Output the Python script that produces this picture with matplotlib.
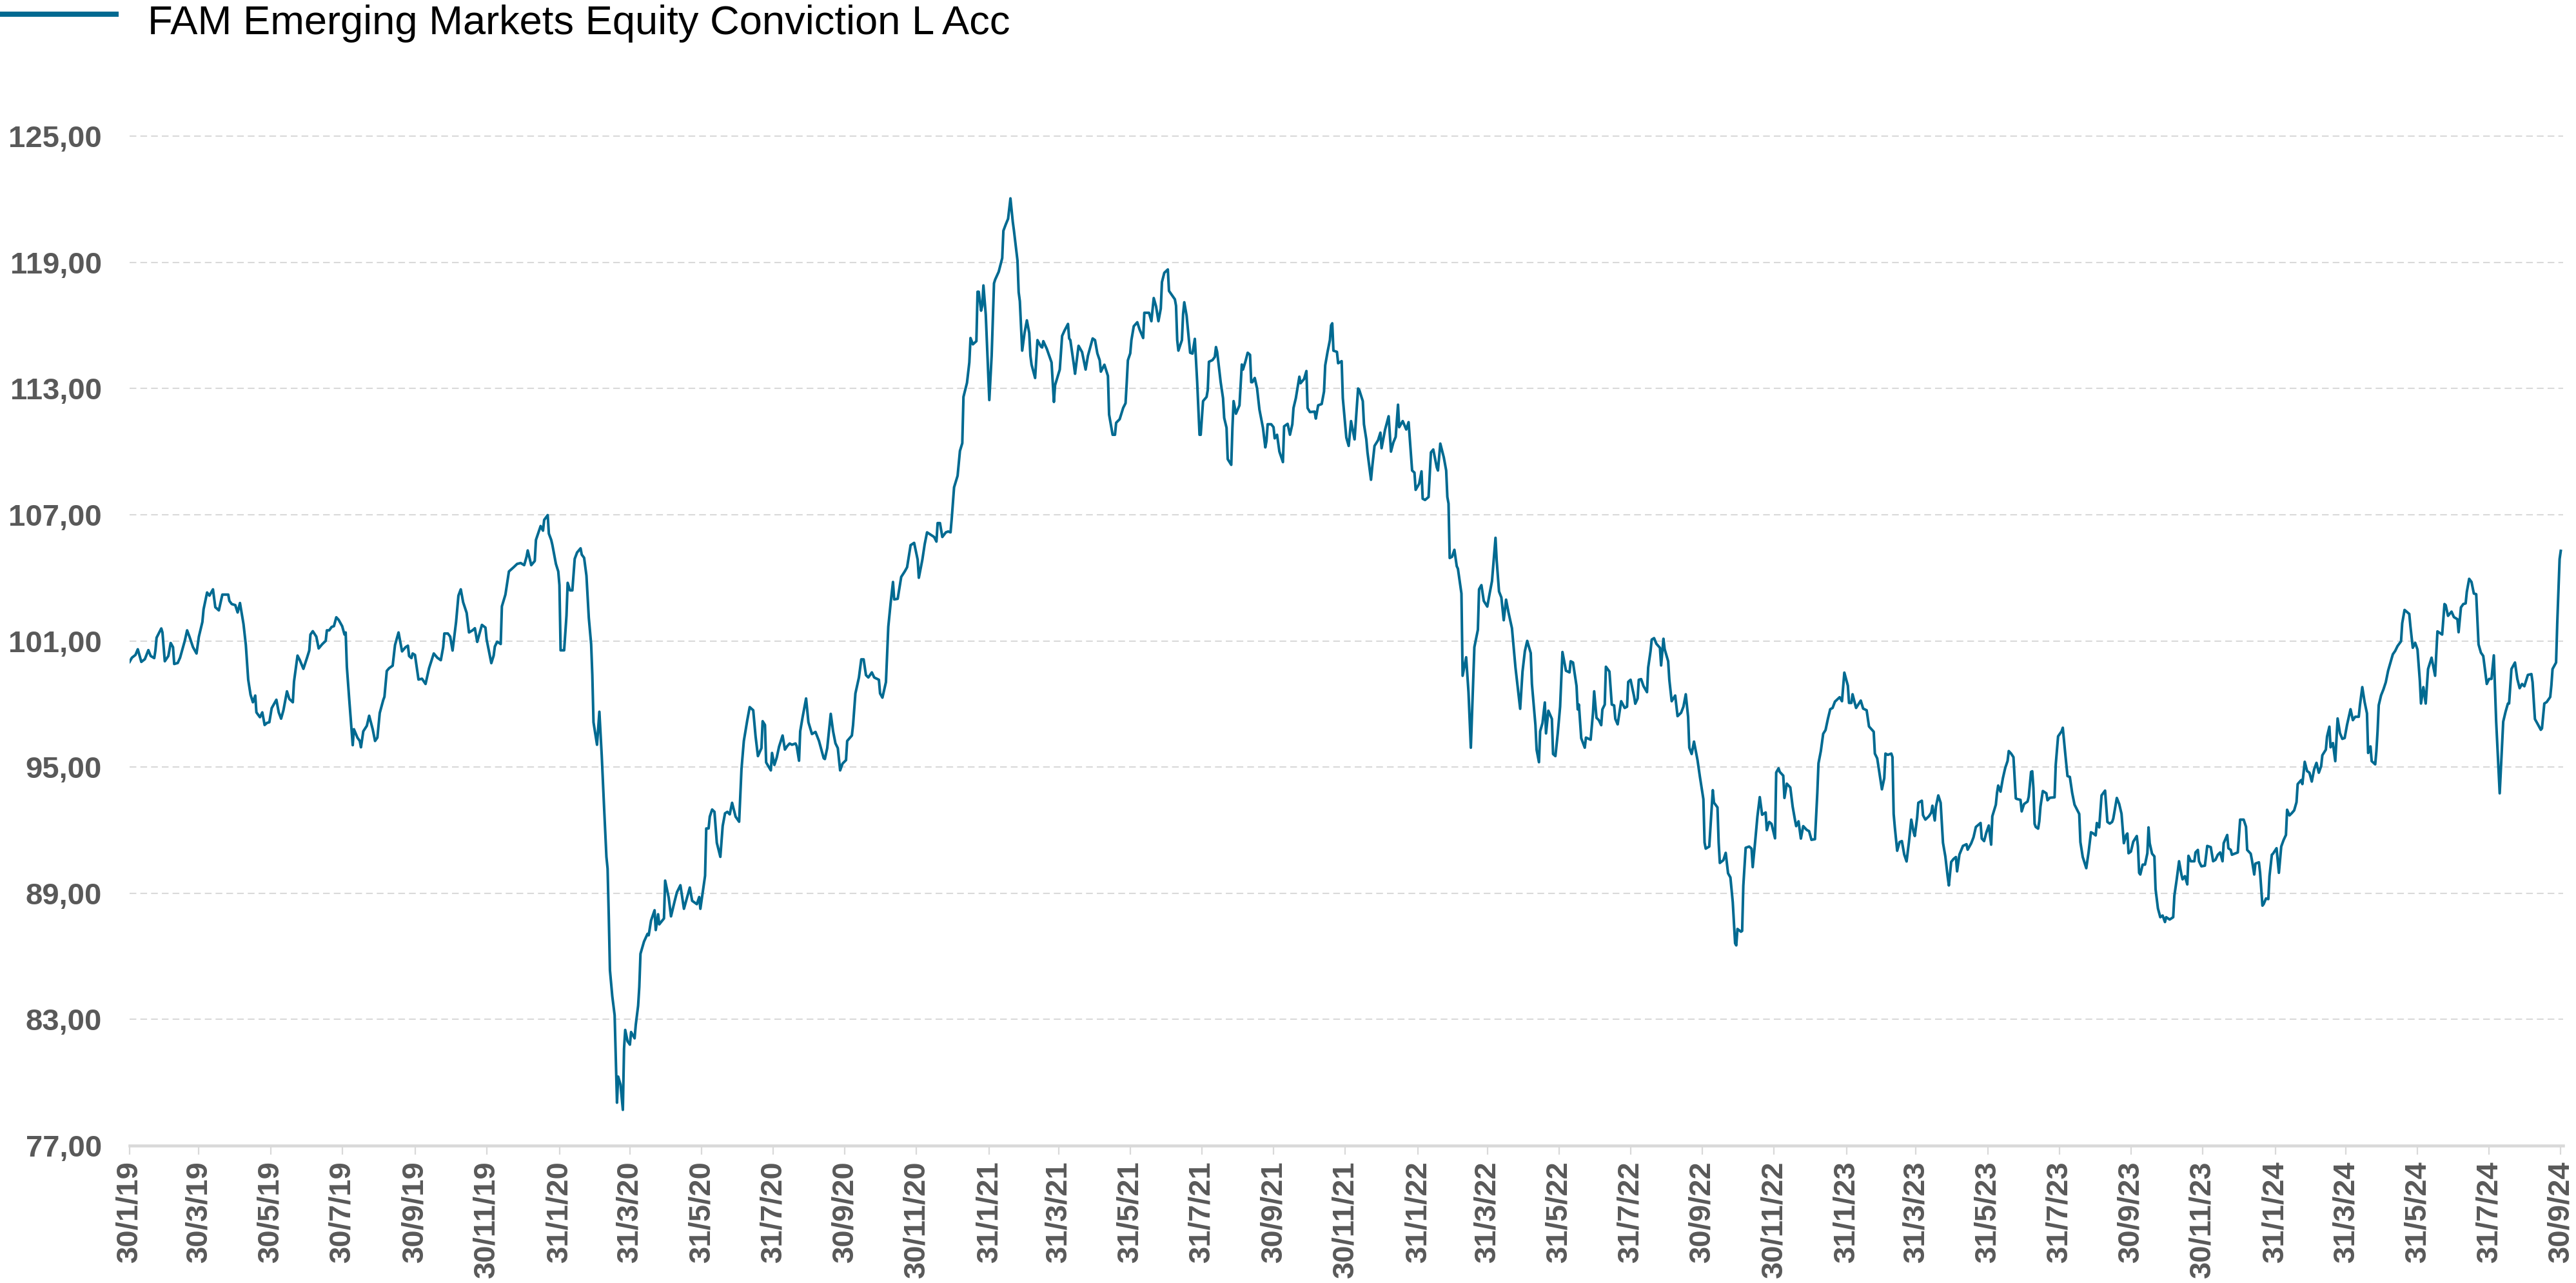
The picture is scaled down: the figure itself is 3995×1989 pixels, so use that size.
import numpy as np
import matplotlib
matplotlib.use('Agg')
import matplotlib.pyplot as plt
from matplotlib.lines import Line2D

plt.rcParams['font.family'] = ['Liberation Sans', 'DejaVu Sans']

series_name = "FAM Emerging Markets Equity Conviction L Acc"
launch_date = np.datetime64('2019-01-30')

# NAV rebased to 100 at launch; days counted from launch date, one list per year
days_2019 = [0, 2, 5, 7, 10, 13, 16, 18, 21, 22, 23, 27, 28, 30, 33, 35, 37, 38, 41, 43, 45, 47, 49, 51,
             54, 57, 59, 62, 63, 66, 68, 71, 73, 76, 79, 84, 85, 87, 90, 92, 94, 97, 99, 101, 103, 105,
             107, 108, 111, 113, 115, 117, 119, 121, 125, 127, 129, 131, 134, 136, 139, 140, 143, 145,
             148, 151, 153, 154, 156, 159, 161, 164, 167, 168, 170, 172, 174, 176, 178, 181, 183, 184,
             185, 187, 190, 191, 194, 196, 197, 199, 202, 204, 207, 209, 211, 213, 216, 217, 219, 221,
             224, 226, 229, 232, 235, 237, 238, 240, 241, 243, 246, 249, 252, 255, 259, 262, 265, 267,
             268, 271, 273, 275, 278, 280, 282, 284, 287, 289, 292, 294, 296, 300, 303, 304, 306, 308,
             310, 311, 313, 316, 317, 320, 323, 325, 327, 330, 333]
nav_2019 = [100.0, 100.2, 100.33, 100.6, 100.0, 100.13, 100.56, 100.28, 100.18, 100.54, 101.15, 101.59,
            101.4, 100.03, 100.28, 100.9, 100.7, 99.9, 99.95, 100.2, 100.6, 101.0, 101.5, 101.2, 100.7,
            100.4, 101.2, 101.9, 102.5, 103.3, 103.15, 103.45, 102.6, 102.45, 103.2, 103.2, 102.9,
            102.75, 102.7, 102.35, 102.8, 101.8, 100.8, 99.16, 98.44, 98.08, 98.4, 97.6, 97.37, 97.6,
            97.0, 97.1, 97.13, 97.8, 98.2, 97.6, 97.3, 97.7, 98.6, 98.24, 98.08, 99.06, 100.3, 100.08,
            99.67, 100.18, 100.54, 101.3, 101.46, 101.2, 100.64, 100.84, 101.0, 101.5, 101.5, 101.66,
            101.7, 102.12, 102.0, 101.7, 101.3, 101.4, 99.77, 98.24, 96.04, 96.8, 96.4, 96.24, 95.94,
            96.7, 96.96, 97.44, 96.8, 96.24, 96.4, 97.57, 98.19, 98.34, 99.57, 99.7, 99.82, 100.8,
            101.4, 100.5, 100.7, 100.77, 100.28, 100.18, 100.4, 100.33, 99.16, 99.2, 98.95, 99.7,
            100.4, 100.2, 100.08, 100.7, 101.35, 101.35, 101.2, 100.54, 101.9, 103.15, 103.45, 102.84,
            102.33, 101.4, 101.5, 101.6, 100.95, 101.76, 101.63, 101.07, 100.5, 99.94, 100.3, 100.73,
            100.96, 100.85, 102.64, 103.2, 104.3, 104.4, 104.5, 104.66, 104.7]

days_2020 = [336, 338, 339, 342, 345, 346, 350, 352, 353, 356, 357, 359, 360, 363, 365, 366, 367, 370,
             372, 373, 375, 377, 379, 381, 384, 385, 387, 389, 391, 393, 394, 395, 398, 400, 402, 404,
             406, 407, 408, 409, 411, 413, 415, 416, 418, 420, 421, 422, 424, 426, 427, 430, 431, 433,
             434, 435, 438, 441, 442, 444, 447, 448, 450, 451, 455, 456, 459, 461, 464, 466, 469, 472,
             477, 479, 483, 485, 486, 490, 491, 493, 494, 496, 498, 500, 503, 505, 507, 509, 511, 513,
             516, 519, 521, 523, 526, 528, 531, 533, 535, 538, 539, 541, 542, 546, 547, 549, 551, 553,
             556, 558, 560, 562, 564, 567, 568, 570, 571, 573, 576, 578, 581, 584, 587, 591, 592, 594,
             596, 597, 599, 601, 603, 605, 607, 610, 611, 615, 616, 618, 621, 623, 625, 627, 629, 632,
             634, 638, 639, 641, 644, 646, 648, 650, 651, 654, 657, 660, 662, 665, 668, 671, 672, 675,
             677, 679, 682, 685, 687, 688, 690, 692, 695, 697, 699, 700]
nav_2020 = [104.6, 105.0, 105.3, 104.6, 104.8, 105.8, 106.46, 106.24, 106.75, 106.98, 106.1, 105.8,
            105.56, 104.66, 104.3, 103.65, 100.55, 100.55, 102.2, 103.76, 103.4, 103.4, 104.9, 105.2,
            105.4, 105.1, 104.95, 104.1, 102.1, 100.84, 99.38, 97.13, 96.06, 97.63, 95.56, 93.1, 90.73,
            90.17, 87.92, 85.34, 84.1, 83.2, 79.04, 80.28, 79.9, 78.7, 81.6, 82.5, 81.96, 81.8, 82.4,
            82.1, 82.75, 83.65, 84.55, 86.12, 86.7, 87.07, 87.0, 87.7, 88.19, 87.25, 88.0, 87.52, 87.8,
            89.6, 88.8, 87.9, 88.6, 89.04, 89.38, 88.26, 89.27, 88.64, 88.48, 88.82, 88.26, 89.83,
            92.08, 92.08, 92.64, 92.98, 92.87, 91.4, 90.73, 92.2, 92.8, 92.87, 92.75, 93.3, 92.64, 92.4,
            94.9, 96.24, 97.25, 97.85, 97.7, 96.46, 95.52, 95.9, 97.18, 97.0, 95.22, 94.84, 95.67,
            95.1, 95.45, 95.97, 96.5, 95.83, 96.0, 96.12, 96.06, 96.12, 96.0, 95.3, 96.7, 97.36, 98.26,
            97.13, 96.57, 96.67, 96.24, 95.42, 95.38, 95.9, 97.0, 97.53, 96.7, 96.13, 95.9, 94.84,
            95.16, 95.33, 96.24, 96.5, 97.0, 98.5, 99.26, 100.12, 100.12, 99.37, 99.26, 99.5, 99.26,
            99.15, 98.5, 98.3, 99.04, 101.67, 102.8, 103.8, 102.97, 103.0, 104.04, 104.3, 104.5,
            105.55, 105.66, 104.86, 104.0, 104.86, 105.6, 106.16, 106.05, 105.94, 105.72, 106.6,
            106.6, 105.94, 106.16, 106.2, 106.16, 106.8]

days_2021 = [702, 705, 707, 709, 710, 713, 715, 716, 718, 721, 722, 723, 725, 726, 727, 729, 732, 734,
             736, 737, 740, 743, 744, 746, 748, 750, 752, 753, 756, 757, 758, 760, 762, 764, 766, 767,
             768, 771, 773, 776, 777, 778, 781, 783, 785, 787, 788, 792, 794, 796, 799, 800, 801, 804,
             805, 808, 811, 814, 816, 820, 822, 824, 826, 827, 830, 833, 834, 837, 839, 840, 843, 846,
             848, 849, 850, 852, 853, 855, 858, 860, 863, 864, 868, 870, 872, 874, 876, 878, 879, 881,
             884, 885, 888, 890, 891, 892, 893, 896, 897, 898, 900, 903, 905, 907, 909, 911, 912, 914,
             917, 918, 919, 922, 924, 925, 926, 927, 929, 931, 932, 934, 935, 938, 939, 940, 942, 945,
             947, 948, 950, 952, 954, 955, 956, 958, 960, 962, 965, 967, 968, 969, 972, 974, 975, 977,
             979, 982, 983, 986, 988, 990, 991, 993, 996, 997, 1000, 1002, 1003, 1005, 1009, 1010, 1012,
             1015, 1017, 1018, 1020, 1022, 1023, 1024, 1025, 1028, 1029, 1032, 1033, 1036, 1038, 1040,
             1043, 1045, 1046, 1047, 1050, 1051, 1053, 1054, 1057, 1058, 1060, 1063, 1065, 1066]
nav_2021 = [108.3, 108.85, 110.03, 110.4, 112.6, 113.27, 114.24, 115.4, 115.1, 115.25, 117.6, 117.6,
            116.7, 116.93, 117.9, 116.5, 112.45, 114.56, 118.0, 118.18, 118.55, 119.2, 120.5, 120.8,
            121.07, 122.04, 120.92, 120.5, 119.08, 117.58, 117.15, 114.8, 115.64, 116.24, 115.64,
            114.56, 114.13, 113.5, 115.3, 114.99, 114.95, 115.25, 114.88, 114.56, 114.24, 112.36,
            113.16, 113.9, 115.5, 115.75, 116.07, 115.38, 115.3, 114.13, 113.7, 115.03, 114.73, 113.9,
            114.56, 115.38, 115.3, 114.67, 114.34, 113.8, 114.13, 113.6, 111.76, 110.8, 110.8, 111.37,
            111.54, 112.08, 112.3, 113.27, 114.34, 114.67, 115.3, 115.96, 116.15, 115.8, 115.4, 116.6,
            116.6, 116.2, 117.3, 116.9, 116.2, 116.8, 118.06, 118.5, 118.66, 117.64, 117.4, 117.24,
            116.93, 115.3, 114.8, 115.3, 116.54, 117.1, 116.46, 114.7, 114.66, 115.36, 113.3, 110.8,
            110.8, 112.4, 112.6, 112.93, 114.27, 114.35, 114.5, 114.97, 114.74, 114.27, 113.3, 112.54,
            111.6, 111.13, 109.64, 109.37, 111.13, 112.4, 111.8, 112.2, 114.14, 113.9, 114.27, 114.7,
            114.6, 113.3, 113.3, 113.5, 113.0, 112.0, 111.13, 110.2, 110.5, 111.3, 111.3, 111.16,
            110.63, 110.8, 110.0, 109.5, 111.2, 111.32, 110.8, 111.3, 112.07, 112.54, 113.56, 113.25,
            113.45, 113.83, 112.07, 111.88, 111.9, 111.57, 112.2, 112.26, 112.86, 114.1, 114.74, 115.3,
            116.0, 116.1, 114.8, 114.74, 114.2, 114.3, 112.54, 110.66, 110.27, 111.45, 110.58, 112.2,
            113.0, 112.93, 112.4, 111.3, 110.58, 109.96, 108.66, 109.25, 110.27, 110.54, 110.9, 110.16]

days_2022 = [1069, 1072, 1074, 1076, 1078, 1080, 1081, 1084, 1087, 1089, 1092, 1094, 1095, 1098, 1100,
             1101, 1103, 1106, 1108, 1110, 1113, 1114, 1116, 1119, 1121, 1122, 1123, 1124, 1126, 1128,
             1130, 1131, 1134, 1135, 1138, 1140, 1142, 1145, 1148, 1149, 1151, 1153, 1156, 1158, 1160,
             1163, 1164, 1166, 1168, 1170, 1172, 1174, 1177, 1180, 1182, 1184, 1186, 1188, 1190, 1193,
             1194, 1197, 1198, 1200, 1201, 1203, 1205, 1206, 1208, 1211, 1212, 1214, 1216, 1218, 1220,
             1223, 1226, 1227, 1229, 1232, 1233, 1234, 1236, 1239, 1240, 1244, 1246, 1247, 1249, 1251,
             1253, 1254, 1256, 1257, 1260, 1262, 1264, 1265, 1267, 1270, 1273, 1275, 1276, 1278, 1281,
             1282, 1284, 1285, 1287, 1289, 1292, 1293, 1295, 1296, 1298, 1300, 1303, 1304, 1306, 1307,
             1310, 1311, 1313, 1316, 1318, 1321, 1323, 1325, 1327, 1328, 1330, 1332, 1335, 1337, 1340,
             1341, 1342, 1345, 1348, 1349, 1352, 1353, 1354, 1357, 1359, 1361, 1363, 1365, 1367, 1368,
             1369, 1372, 1373, 1374, 1376, 1379, 1381, 1382, 1384, 1386, 1388, 1390, 1393, 1394, 1396,
             1398, 1401, 1402, 1404, 1405, 1408, 1409, 1411, 1414, 1416, 1418, 1419, 1421, 1423, 1425,
             1428, 1430]
nav_2022 = [111.05, 111.68, 110.0, 110.43, 110.7, 112.23, 111.16, 111.45, 111.05, 111.4, 109.1, 109.0,
            108.18, 108.47, 109.06, 107.76, 107.7, 107.84, 109.96, 110.1, 109.25, 109.1, 110.38,
            109.72, 109.1, 107.84, 107.53, 104.94, 105.0, 105.33, 104.55, 104.43, 103.25, 99.34,
            100.22, 98.56, 95.92, 100.7, 101.53, 103.45, 103.65, 102.9, 102.63, 103.25, 103.84, 105.9,
            104.82, 103.35, 103.06, 101.98, 102.96, 102.37, 101.6, 99.73, 98.75, 97.77, 99.54, 100.51,
            101.0, 100.42, 98.95, 96.99, 95.82, 95.23, 96.7, 97.09, 98.07, 96.6, 97.68, 97.29, 95.62,
            95.52, 96.6, 97.87, 100.47, 99.58, 99.5, 100.03, 99.97, 98.85, 97.74, 97.97, 96.37, 95.92,
            96.4, 96.3, 97.58, 98.6, 97.34, 97.23, 96.99, 97.74, 97.97, 99.77, 99.54, 97.97, 97.93,
            97.29, 97.03, 98.13, 97.81, 97.87, 99.05, 99.15, 98.36, 98.01, 98.26, 99.15, 99.18, 98.85,
            98.56, 99.73, 100.51, 101.06, 101.13, 100.86, 100.67, 99.83, 101.1, 100.61, 100.03, 99.15,
            98.13, 98.4, 97.42, 97.58, 97.87, 98.46, 97.38, 95.92, 95.62, 96.21, 95.33, 94.55, 93.47,
            91.41, 91.12, 91.22, 93.9, 93.31, 93.08, 91.41, 90.44, 90.57, 90.92, 89.95, 89.75, 88.58,
            86.62, 86.52, 87.3, 87.17, 87.21, 89.36, 91.16, 91.22, 91.12, 90.24, 91.41, 92.65, 93.57,
            92.73, 92.84, 92.0, 92.39, 92.3, 91.61, 94.74, 94.94, 94.77, 94.59, 93.53, 94.21, 94.03,
            93.12, 92.48, 92.19, 92.42, 91.6, 92.19, 92.01, 91.95]

days_2023 = [1432, 1435, 1437, 1438, 1440, 1442, 1444, 1446, 1448, 1450, 1452, 1456, 1458, 1460, 1463,
             1464, 1466, 1467, 1470, 1474, 1476, 1479, 1481, 1485, 1486, 1488, 1492, 1494, 1495, 1497,
             1500, 1501, 1502, 1503, 1505, 1507, 1509, 1511, 1513, 1515, 1517, 1519, 1520, 1522, 1523,
             1526, 1527, 1529, 1532, 1534, 1535, 1537, 1538, 1540, 1542, 1544, 1546, 1548, 1549, 1551,
             1553, 1555, 1556, 1558, 1561, 1564, 1565, 1568, 1570, 1572, 1576, 1577, 1579, 1581, 1583,
             1585, 1586, 1589, 1590, 1591, 1593, 1595, 1597, 1599, 1600, 1602, 1604, 1606, 1607, 1610,
             1611, 1613, 1616, 1617, 1619, 1620, 1621, 1622, 1623, 1625, 1626, 1627, 1629, 1632, 1633,
             1635, 1639, 1640, 1642, 1645, 1646, 1648, 1650, 1652, 1654, 1656, 1660, 1661, 1663, 1665,
             1666, 1668, 1670, 1672, 1674, 1675, 1677, 1679, 1682, 1684, 1686, 1688, 1689, 1692, 1694,
             1696, 1698, 1700, 1701, 1702, 1704, 1706, 1709, 1710, 1711, 1712, 1714, 1716, 1718, 1719,
             1720, 1722, 1724, 1725, 1727, 1729, 1731, 1733, 1734, 1737, 1740, 1741, 1743, 1745, 1747,
             1748, 1750, 1752, 1753, 1755, 1758, 1759, 1761, 1762, 1764, 1767, 1769, 1772, 1774, 1776,
             1778, 1780, 1782, 1783, 1786, 1787, 1789, 1790, 1795]
nav_2023 = [91.54, 91.57, 93.77, 95.18, 95.76, 96.58, 96.76, 97.29, 97.75, 97.81, 98.11, 98.32, 98.13,
            99.49, 98.87, 98.05, 98.05, 98.46, 97.81, 98.16, 97.78, 97.7, 96.93, 96.68, 95.64, 95.41,
            93.94, 94.47, 95.64, 95.58, 95.64, 95.47, 92.77, 92.13, 91.02, 91.43, 91.48, 90.84, 90.51,
            91.43, 92.5, 91.9, 91.72, 92.6, 93.3, 93.4, 92.71, 92.5, 92.66, 92.83, 93.16, 92.46, 93.12,
            93.65, 93.3, 91.4, 90.75, 89.78, 89.37, 90.49, 90.63, 90.72, 90.04, 90.84, 91.25, 91.33,
            91.07, 91.37, 91.66, 92.15, 92.34, 91.6, 91.48, 91.9, 92.22, 91.31, 92.66, 93.21, 93.77,
            94.12, 93.83, 94.47, 94.96, 95.29, 95.76, 95.64, 95.47, 93.51, 93.48, 93.44, 92.89, 93.24,
            93.36, 93.59, 94.77, 94.8, 94.0, 92.3, 92.15, 92.07, 92.42, 93.12, 93.86, 93.75, 93.42,
            93.54, 93.56, 95.12, 96.46, 96.7, 96.87, 95.7, 94.57, 94.53, 93.77, 93.21, 92.77, 91.43,
            90.72, 90.37, 90.19, 90.96, 91.9, 91.84, 91.75, 92.34, 92.13, 93.65, 93.88, 92.39, 92.31,
            92.39, 92.55, 93.53, 93.25, 92.78, 91.38, 91.77, 91.84, 90.9, 90.98, 91.45, 91.72, 91.22,
            89.97, 89.89, 90.36, 90.36, 90.9, 92.13, 91.38, 90.88, 90.75, 89.19, 88.28, 87.86, 87.94,
            87.63, 87.86, 87.75, 87.86, 88.88, 89.66, 90.52, 89.89, 89.66, 89.81, 89.42, 90.78, 90.52,
            90.52, 90.94, 91.06, 90.52, 90.28, 90.31, 91.25, 91.19, 90.52, 90.59, 90.83, 90.94, 90.52,
            91.38, 91.77, 91.14, 91.06, 90.83, 90.94]

days_2024 = [1797, 1800, 1802, 1803, 1806, 1807, 1809, 1810, 1813, 1814, 1816, 1817, 1819, 1821, 1822,
             1824, 1825, 1828, 1830, 1832, 1834, 1836, 1837, 1839, 1841, 1843, 1845, 1846, 1849, 1850,
             1852, 1854, 1856, 1858, 1860, 1862, 1864, 1866, 1867, 1870, 1871, 1873, 1874, 1876, 1878,
             1880, 1882, 1884, 1886, 1888, 1891, 1893, 1895, 1898, 1899, 1901, 1903, 1905, 1906, 1908,
             1909, 1912, 1913, 1914, 1915, 1917, 1919, 1921, 1923, 1925, 1927, 1929, 1931, 1934, 1935,
             1937, 1941, 1942, 1944, 1946, 1948, 1950, 1951, 1953, 1955, 1957, 1960, 1963, 1965, 1969,
             1971, 1972, 1974, 1977, 1979, 1982, 1983, 1985, 1987, 1989, 1990, 1992, 1994, 1996, 1998,
             2000, 2002, 2004, 2007, 2009, 2011, 2013, 2015, 2018, 2021, 2023, 2025, 2026, 2028, 2031,
             2033, 2035, 2037, 2039, 2042, 2045, 2046, 2048, 2050, 2053, 2054, 2056, 2058, 2061, 2062,
             2063, 2066, 2067, 2068, 2069, 2070]
nav_2024 = [92.5, 92.5, 92.16, 91.06, 90.88, 90.59, 89.89, 90.41, 90.47, 89.97, 88.41, 88.48, 88.75,
            88.72, 89.81, 90.83, 90.88, 91.14, 89.97, 91.22, 91.53, 91.77, 92.97, 92.7, 92.81, 92.94,
            93.33, 94.19, 94.38, 94.19, 95.25, 94.81, 94.73, 94.31, 94.89, 95.2, 94.73, 95.05, 95.56,
            95.83, 96.45, 96.92, 95.94, 96.14, 95.28, 97.31, 96.61, 96.34, 96.38, 97.0, 97.75, 97.23,
            97.39, 97.39, 97.94, 98.8, 98.09, 97.55, 95.67, 95.98, 95.28, 95.13, 95.75, 96.69, 97.94,
            98.41, 98.69, 99.03, 99.58, 99.97, 100.36, 100.52, 100.75, 100.98, 101.84, 102.47, 102.28,
            101.69, 100.67, 100.91, 100.59, 99.11, 98.02, 98.8, 98.02, 99.66, 100.2, 99.34, 101.45,
            101.3, 102.75, 102.7, 102.19, 102.39, 102.13, 102.03, 101.41, 102.59, 102.75, 102.78,
            103.33, 103.95, 103.8, 103.25, 103.22, 100.83, 100.44, 100.28, 98.95, 99.19, 99.19, 100.31,
            97.16, 93.75, 97.16, 97.63, 98.02, 98.02, 99.66, 99.97, 99.19, 98.75, 98.95, 98.84, 99.38,
            99.42, 99.03, 97.28, 97.08, 96.77, 96.84, 98.02, 98.09, 98.33, 98.88, 99.66, 99.97, 101.84,
            103.41, 104.89, 105.28]

tick_labels = ['30/1/19', '30/3/19', '30/5/19', '30/7/19', '30/9/19', '30/11/19',
               '31/1/20', '31/3/20', '31/5/20', '31/7/20', '30/9/20', '30/11/20',
               '31/1/21', '31/3/21', '31/5/21', '31/7/21', '30/9/21', '30/11/21',
               '31/1/22', '31/3/22', '31/5/22', '31/7/22', '30/9/22', '30/11/22',
               '31/1/23', '31/3/23', '31/5/23', '31/7/23', '30/9/23', '30/11/23',
               '31/1/24', '31/3/24', '31/5/24', '31/7/24', '30/9/24']
y_ticks = [77, 83, 89, 95, 101, 107, 113, 119, 125]

line_color = '#006a91'
grid_color = '#d9d9d9'
label_color = '#595959'

# Build the series
days = days_2019 + days_2020 + days_2021 + days_2022 + days_2023 + days_2024
nav = nav_2019 + nav_2020 + nav_2021 + nav_2022 + nav_2023 + nav_2024
dates = launch_date + np.array(days, dtype='timedelta64[D]')


def parse_label(s):
    d, m, y = s.split('/')
    return np.datetime64('20%s-%02d-%02d' % (y, int(m), int(d)))


tick_dates = [parse_label(s) for s in tick_labels]

# Figure
fig = plt.figure(figsize=(39.95, 19.89), dpi=100)
ax = fig.add_axes([0.0503, 0.1071, 0.9447, 0.7868])

ax.plot(dates, nav, color=line_color, lw=2.9, solid_joinstyle='round', zorder=3)

ax.set_xlim(launch_date, tick_dates[-1] + np.timedelta64(2, 'D'))
ax.set_ylim(77, 125)

ax.set_yticks(y_ticks)
ax.set_yticklabels([('%.2f' % v).replace('.', ',') for v in y_ticks])
ax.set_xticks(tick_dates)
ax.set_xticklabels(tick_labels, rotation=90, ha='center', va='top')

for lab in ax.get_xticklabels() + ax.get_yticklabels():
    lab.set_fontsize(34)
    lab.set_fontweight('bold')
    lab.set_color(label_color)

ax.tick_params(axis='y', length=0, pad=31)
ax.tick_params(axis='x', length=10, width=1.6, color=grid_color, pad=7)

ax.yaxis.grid(True, color=grid_color, lw=1.5, linestyle=(0, (5, 3)))
ax.set_axisbelow(True)
for gl in ax.get_ygridlines():
    gl.set_clip_on(False)

for side in ['top', 'right', 'left']:
    ax.spines[side].set_visible(False)
ax.spines['bottom'].set_color(grid_color)
ax.spines['bottom'].set_linewidth(3.3)

# Legend drawn at the top-left
fig.add_artist(Line2D([0.0, 0.046], [0.989, 0.989], transform=fig.transFigure,
                      color=line_color, lw=5.8, solid_capstyle='butt'))
fig.text(0.0573, 0.9734, series_name, fontsize=45.5, color='black', va='baseline', ha='left')

fig.savefig('out.png', dpi=100)
